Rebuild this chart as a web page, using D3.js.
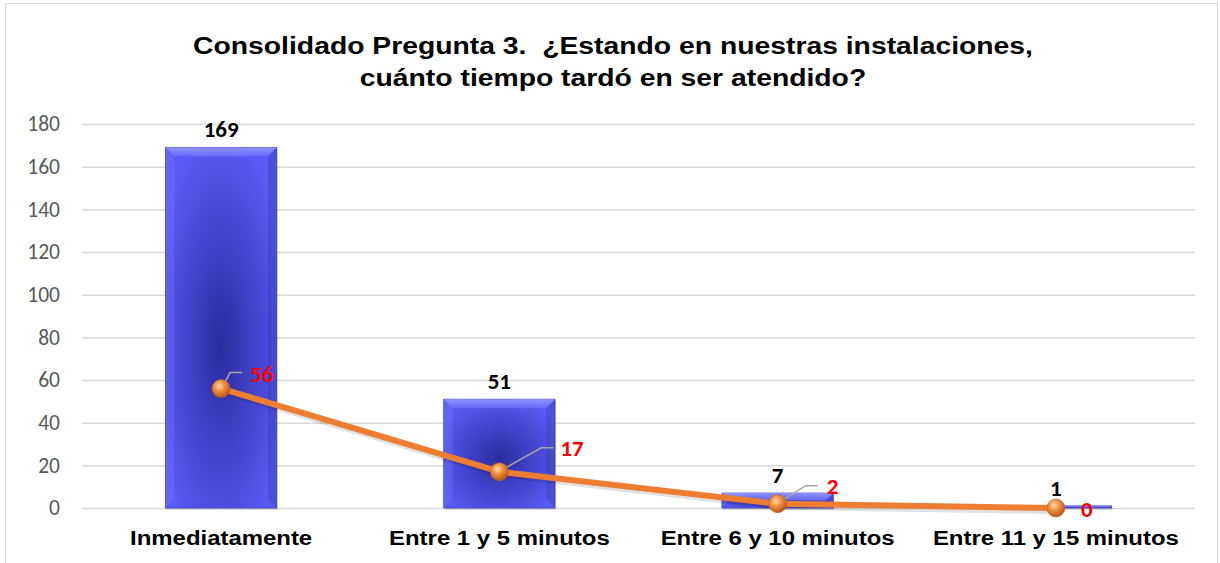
<!DOCTYPE html>
<html><head><meta charset="utf-8">
<script src="https://cdn.jsdelivr.net/npm/d3@7"></script>
<style>body{margin:0;background:#fff}svg{display:block}</style>
</head><body>
<svg id="c" width="1220" height="563"></svg>
<script>
const categories = ["Inmediatamente","Entre 1 y 5 minutos","Entre 6 y 10 minutos","Entre 11 y 15 minutos"];
const barValues = [169, 51, 7, 1];
const lineValues = [56, 17, 2, 0];
const yTicks = [0,20,40,60,80,100,120,140,160,180];
const titleLines = ["Consolidado Pregunta 3.  ¿Estando en nuestras instalaciones,", "cuánto tiempo tardó en ser atendido?"];

const svg = d3.select("#c");
const defs = svg.append("defs");
const rg = defs.append("radialGradient").attr("id","barG").attr("cx","50%").attr("cy","55%").attr("r","60%");
rg.append("stop").attr("offset","0%").attr("stop-color","#2b2b9e");
rg.append("stop").attr("offset","100%").attr("stop-color","#5a5af6");
const mg = defs.append("radialGradient").attr("id","mkG").attr("cx","40%").attr("cy","35%").attr("r","65%");
mg.append("stop").attr("offset","0%").attr("stop-color","#ffd9b0");
mg.append("stop").attr("offset","45%").attr("stop-color","#f0913f");
mg.append("stop").attr("offset","100%").attr("stop-color","#b8561a");
const bev = defs.append("linearGradient").attr("id","bevG").attr("x1","0").attr("y1","0").attr("x2","0").attr("y2","1");
bev.append("stop").attr("offset","0%").attr("stop-color","#9c9cff");
bev.append("stop").attr("offset","100%").attr("stop-color","#6a6af8");

svg.append("rect").attr("x",5.5).attr("y",3.5).attr("width",1212).attr("height",580)
  .attr("fill","#fff").attr("stroke","#d9d9d9").attr("stroke-width",1);

const pLeft = 82, pRight = 1195, pTop = 124, pBottom = 508;
const x = d3.scaleBand().domain(categories).range([pLeft,pRight]).paddingInner(0.6).paddingOuter(0.3);
const xc = d => x(d) + x.bandwidth()/2;
const y = d3.scaleLinear().domain([0,180]).range([pBottom,pTop]);

// title
svg.append("g").attr("transform","translate(613,0) scale(1.18,1)")
  .append("text").attr("text-anchor","middle").style("white-space","pre")
  .style("font-family","Liberation Sans, Arial, sans-serif").style("font-weight","bold").style("font-size","24px").attr("fill","#000")
  .selectAll("tspan").data(titleLines).join("tspan").attr("x",0).attr("y",(d,i)=>54+i*32).text(d=>d);

// grid + y axis
const ya = d3.axisLeft(y).tickValues(yTicks).tickSize(-(pRight-pLeft)).tickPadding(22);
const gy = svg.append("g").attr("transform",`translate(${pLeft},0)`).call(ya);
gy.select(".domain").remove();
gy.selectAll(".tick line").attr("stroke","#d9d9d9").attr("stroke-width",1.5);
gy.selectAll(".tick text").attr("fill","#595959").style("font-family","Calibri, Carlito, Liberation Sans, sans-serif").style("font-size","21.5px");

// x axis labels
const xa = d3.axisBottom(x).tickSize(0).tickPadding(22);
const gx = svg.append("g").attr("transform",`translate(0,${pBottom})`).call(xa);
gx.select(".domain").remove();
gx.selectAll(".tick text").attr("fill","#000").attr("transform","scale(1.14,1)")
  .style("font-family","Liberation Sans, Arial, sans-serif").style("font-weight","bold").style("font-size","21px");

// bars
const bw = x.bandwidth();
const bars = svg.append("g").selectAll("g").data(categories).join("g");
bars.append("rect").attr("x",d=>x(d)+1).attr("y",(d,i)=>y(barValues[i])+2).attr("width",bw).attr("height",(d,i)=>pBottom-y(barValues[i]))
  .attr("fill","#000").attr("opacity",0.12);
bars.append("rect").attr("x",d=>x(d)).attr("y",(d,i)=>y(barValues[i])).attr("width",bw).attr("height",(d,i)=>pBottom-y(barValues[i]))
  .attr("fill","url(#barG)").attr("stroke","#4040c0").attr("stroke-width",0.8);
bars.append("path").attr("d",(d,i)=>{
  const x0=x(d), x1=x(d)+bw, y0=y(barValues[i]), h=pBottom-y0, b=Math.min(9,h/2);
  return `M${x0},${y0}L${x1},${y0}L${x1-b},${y0+b}L${x0+b},${y0+b}Z`;
}).attr("fill","url(#bevG)").attr("opacity",0.85);
bars.append("path").attr("d",(d,i)=>{
  const x0=x(d), x1=x(d)+bw, y0=y(barValues[i]), h=pBottom-y0, b=Math.min(9,h/2);
  return `M${x1},${y0}L${x1},${pBottom}L${x1-b},${pBottom-b}L${x1-b},${y0+b}Z`;
}).attr("fill","#2a2a90").attr("opacity",0.25);
bars.append("path").attr("d",(d,i)=>{
  const x0=x(d), y0=y(barValues[i]), h=pBottom-y0, b=Math.min(9,h/2);
  return `M${x0},${y0}L${x0+b},${y0+b}L${x0+b},${pBottom-b}L${x0},${pBottom}Z`;
}).attr("fill","#8080ff").attr("opacity",0.25);

// bar labels
svg.append("g").selectAll("text").data(categories).join("text")
  .attr("x",d=>xc(d)).attr("y",(d,i)=>y(barValues[i])-10).attr("text-anchor","middle")
  .style("font-family","Calibri, Carlito, Liberation Sans, sans-serif").style("font-weight","bold").style("font-size","23px").attr("fill","#000")
  .text((d,i)=>barValues[i]);

// line
const line = d3.line().x(d=>xc(d)).y((d,i)=>y(lineValues[i]));
svg.append("path").datum(categories).attr("d",d3.line().x(d=>xc(d)+2).y((d,i)=>y(lineValues[i])+3)).attr("fill","none").attr("stroke","#000").attr("stroke-opacity",0.12).attr("stroke-width",6);
svg.append("path").datum(categories).attr("d",line).attr("fill","none").attr("stroke","#ED7D31").attr("stroke-width",6).attr("stroke-linejoin","round");

// leader lines
const leaders = [[9,-16,12],[42,-24,12],[28,-18,12],null];
svg.append("g").selectAll("path").data(categories).join("path")
  .attr("d",(d,i)=>{ const L=leaders[i]; if(!L) return null; const cx=xc(d), cy=y(lineValues[i]);
    return `M${cx+1},${cy-1}L${cx+L[0]},${cy+L[1]}L${cx+L[0]+L[2]},${cy+L[1]}`;})
  .attr("fill","none").attr("stroke","#a6a6a6").attr("stroke-width",1.5);

// markers
svg.append("g").selectAll("circle").data(categories).join("circle")
  .attr("cx",d=>xc(d)).attr("cy",(d,i)=>y(lineValues[i])).attr("r",9)
  .attr("fill","url(#mkG)").attr("stroke","#c0601e").attr("stroke-width",0.6);

// line labels
const lblOff = [[29,-15],[61,-24],[49,-18],[25,1]];
svg.append("g").selectAll("text").data(categories).join("text")
  .attr("x",(d,i)=>xc(d)+lblOff[i][0]).attr("y",(d,i)=>y(lineValues[i])+lblOff[i][1]).attr("dy","0.35em")
  .attr("text-anchor","start")
  .style("font-family","Calibri, Carlito, Liberation Sans, sans-serif").style("font-weight","bold").style("font-size","23px").attr("fill","#ff0000")
  .text((d,i)=>lineValues[i]);
</script>
</body></html>
